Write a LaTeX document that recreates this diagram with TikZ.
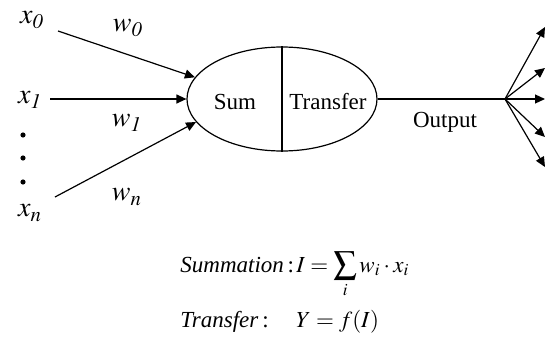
\documentclass[tikz,border=0pt]{standalone}
\usepackage{mathptmx}
\usepackage{fontspec}
\setmainfont{Liberation Serif}
\usetikzlibrary{arrows.meta,shapes.geometric}
\tikzset{
  every node/.style={font=\fontsize{11.5}{14}\selectfont,inner sep=0pt},
  lbl/.style={font=\fontsize{14}{16}\selectfont},
  wire/.style={-{Triangle[length=5pt,width=4.5pt]},line width=.6pt},
  plain/.style={line width=.6pt},
  cell/.style={ellipse,draw,line width=.6pt,minimum width=95pt,minimum height=52pt},
  dotmark/.style={circle,fill,minimum size=2.6pt},
}
\begin{document}
\begin{tikzpicture}[x=.5pt,y=-.5pt]
\path[use as bounding box] (0,0) rectangle (547,343);
% inputs
\node[lbl] (x0) at (32,20) {$x_{\mathit{0}}$};
\node[lbl] (x1) at (30,100) {$x_{\mathit{1}}$};
\node[lbl] (xn) at (30,213) {$x_{n}$};
\foreach \i/\y in {1/135,2/158,3/182}
  \node[dotmark] (dot\i) at (23,\y) {};
% neuron body
\node[cell] (body) at (282,99) {};
\draw[plain] (body.north) -- (body.south);
\node (sum) at (235,102) {Sum};
\node (tf) at (328,102) {Transfer};
% weighted links
\coordinate (s0) at (58,31);
\coordinate (s1) at (50,99);
\coordinate (sn) at (55,197);
\draw[wire] (s0) -- (body.166);
\draw[wire] (s1) -- (body.west);
\draw[wire] (sn) -- (body.195);
\node[lbl] (w0) at (128,28) {$w_{\mathit{0}}$};
\node[lbl] (w1) at (127,123) {$w_{\mathit{1}}$};
\node[lbl] (wn) at (127,197) {$w_{n}$};
% output fan
\coordinate (fan) at (505,99);
\draw[plain] (body.east) -- (fan);
\node (out) at (445,122) {Output};
\foreach \i/\y in {1/27,2/68,3/99,4/137,5/167} {
  \coordinate (o\i) at (545,\y);
  \draw[wire] (fan) -- (o\i);
}
% equations
\node[anchor=base west] (summ) at (180,272) {\makebox[58pt][l]{\textit{Summation}\,:}$\displaystyle I=\sum_{i} w_i\cdot x_i$};
\node[anchor=base west] (trans) at (180,327) {\makebox[58pt][l]{\textit{Transfer}\,:}$Y=f(I)$};
\end{tikzpicture}
\end{document}
